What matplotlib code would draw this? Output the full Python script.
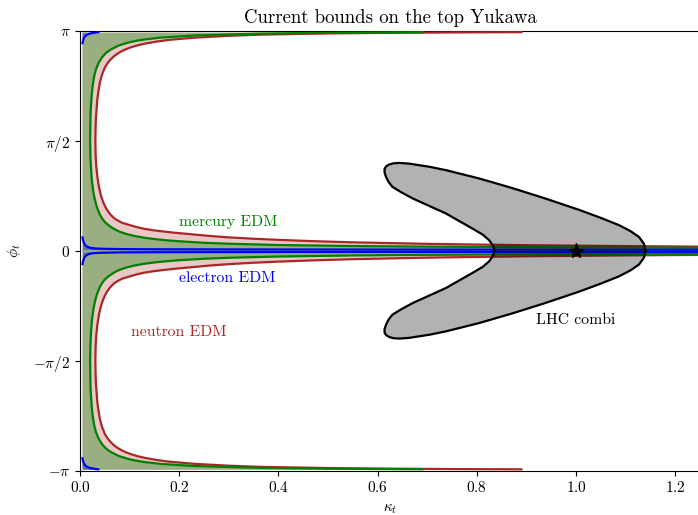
import numpy as np
import matplotlib
matplotlib.use("Agg")
import matplotlib.pyplot as plt

plt.rcParams['font.family'] = 'serif'
plt.rcParams['font.serif'] = ['cmr10']
plt.rcParams['mathtext.fontset'] = 'cm'
plt.rcParams['axes.unicode_minus'] = False
plt.rcParams['axes.formatter.use_mathtext'] = True

# ---------------- data ----------------
kappa_min = 0.004

# neutron EDM bound, upper half (phi > 0): branch towards phi=0, then branch towards phi=pi
n_zero_kappa = [1.25, 1.1, 0.9, 0.7, 0.55, 0.47, 0.4, 0.35, 0.3, 0.26, 0.22, 0.19, 0.17, 0.15, 0.13, 0.115,
                0.1, 0.092, 0.085, 0.077, 0.07, 0.064, 0.059, 0.054, 0.05, 0.046, 0.042, 0.038, 0.035,
                0.033, 0.032, 0.0315, 0.031]
n_zero_phi = [0.0592, 0.0664, 0.079, 0.0987, 0.1203, 0.137, 0.1556, 0.1714, 0.1912, 0.2124, 0.2387, 0.2581,
              0.274, 0.2908, 0.3128, 0.3367, 0.368, 0.3844, 0.399, 0.4286, 0.459, 0.4985, 0.539, 0.5909,
              0.6435, 0.7102, 0.796, 0.9193, 1.057, 1.196, 1.297, 1.375, 1.571]
n_pi_kappa = [0.0315, 0.032, 0.033, 0.035, 0.037, 0.04, 0.044, 0.05, 0.055, 0.06, 0.067, 0.076, 0.087, 0.1,
              0.115, 0.13, 0.155, 0.18, 0.23, 0.3, 0.365, 0.5, 0.6, 0.75, 0.89]
n_pi_phi = [1.781, 1.878, 1.986, 2.166, 2.276, 2.401, 2.510, 2.618, 2.676, 2.721, 2.772, 2.820, 2.8645, 2.902,
            2.9349, 2.960, 2.9913, 3.015, 3.046, 3.073, 3.0896, 3.1066, 3.1141, 3.1209, 3.1247]

# mercury EDM bound, upper half
hg_zero_kappa = [1.25, 1.1, 0.9, 0.7, 0.55, 0.4, 0.3, 0.25, 0.2, 0.175, 0.15, 0.13, 0.11, 0.093, 0.08, 0.072,
                 0.065, 0.057, 0.05, 0.045, 0.04, 0.034, 0.03, 0.027, 0.024, 0.0225, 0.0215, 0.021, 0.0205]
hg_zero_phi = [0.0432, 0.0464, 0.0511, 0.0586, 0.0673, 0.0826, 0.1002, 0.1142, 0.1354, 0.1491, 0.1674, 0.1857,
               0.2107, 0.241, 0.2721, 0.2988, 0.329, 0.3678, 0.4115, 0.4579, 0.518, 0.6248, 0.7297, 0.8391,
               1.0, 1.1369, 1.265, 1.352, 1.571]
hg_pi_kappa = [0.021, 0.0215, 0.0235, 0.0256, 0.0285, 0.032, 0.038, 0.045, 0.053, 0.0625, 0.078, 0.096, 0.112,
               0.13, 0.163, 0.23, 0.365, 0.5, 0.69]
hg_pi_phi = [1.883, 2.004, 2.2143, 2.361, 2.4894, 2.589, 2.6924, 2.771, 2.8309, 2.879, 2.9337, 2.974, 2.9999,
             3.0205, 3.047, 3.0773, 3.1046, 3.116, 3.1242]

# electron EDM bound, upper half (two separate pieces)
e_zero_kappa = [1.25, 0.6, 0.3, 0.15, 0.08, 0.045, 0.03, 0.022, 0.017, 0.013, 0.0115, 0.010, 0.009, 0.008,
                0.0072, 0.0065, 0.0057, 0.005]
e_zero_phi = [0.015, 0.017, 0.019, 0.021, 0.024, 0.028, 0.033, 0.04, 0.05, 0.064, 0.073, 0.085, 0.097, 0.11,
              0.127, 0.145, 0.167, 0.19]
e_pi_kappa = [0.005, 0.0057, 0.0065, 0.0072, 0.008, 0.009, 0.010, 0.011, 0.012, 0.014, 0.017, 0.022, 0.030,
              0.037]
e_pi_phi = [2.967, 2.99, 3.012, 3.028, 3.042, 3.054, 3.064, 3.071, 3.077, 3.087, 3.097, 3.108, 3.118, 3.125]

# LHC combination contour (upper half, from right tip to inner notch)
lhc_kappa = [1.140, 1.137, 1.127, 1.110, 1.087, 1.050, 1.006, 0.939, 0.872, 0.805, 0.738, 0.705, 0.684, 0.664,
             0.644, 0.632, 0.623, 0.617, 0.614, 0.614, 0.617, 0.622, 0.630, 0.648, 0.671, 0.738, 0.791, 0.812,
             0.825, 0.830, 0.834, 0.835]
lhc_phi = [0.0, 0.10, 0.197, 0.28, 0.365, 0.47, 0.585, 0.745, 0.895, 1.033, 1.152, 1.200, 1.223, 1.245, 1.256,
           1.250, 1.232, 1.205, 1.17, 1.12, 1.056, 0.985, 0.913, 0.835, 0.747, 0.532, 0.318, 0.23, 0.150, 0.10,
           0.05, 0.0]

sm_point = (1.0, 0.0)

# ---------------- figure ----------------
fig = plt.figure(figsize=(6.98, 5.15), dpi=100)
ax = fig.add_axes([80/698, 44.5/515, 620/698, 439.5/515])

red = '#a82828'
green = 'green'
blue = 'blue'


def halves(k0, p0, kp, pp):
    k_up = np.array(k0 + kp)
    p_up = np.array(p0 + pp)
    k_all = np.concatenate([k_up[::-1], k_up])
    p_all = np.concatenate([-p_up[::-1], p_up])
    return k_up, p_up, k_all, p_all


curves = [(n_zero_kappa, n_zero_phi, n_pi_kappa, n_pi_phi, 'firebrick', 0.25, red),
          (hg_zero_kappa, hg_zero_phi, hg_pi_kappa, hg_pi_phi, 'green', 0.35, green)]

for (k0, p0, kp, pp, fc, fa, lc) in curves:
    k_up, p_up, k_all, p_all = halves(k0, p0, kp, pp)
    ax.fill_betweenx(p_all, kappa_min, k_all, color=fc, alpha=fa, lw=0, zorder=1)

# electron fills
ek = np.array(e_zero_kappa)
ep = np.array(e_zero_phi)
ax.fill_betweenx(np.concatenate([-ep, ep[::-1]]), kappa_min,
                 np.concatenate([ek, ek[::-1]]), color=blue, alpha=0.35, lw=0, zorder=1)
epk = np.array(e_pi_kappa)
epp = np.array(e_pi_phi)
for s in (1, -1):
    ax.fill_betweenx(s * epp, kappa_min, epk, color=blue, alpha=0.35, lw=0, zorder=1)

# lines
for (k0, p0, kp, pp, fc, fa, lc) in curves:
    k_up, p_up, _, _ = halves(k0, p0, kp, pp)
    for s in (1, -1):
        ax.plot(k_up, s * p_up, color=lc, lw=1.6, zorder=3, solid_joinstyle='round')

for s in (1, -1):
    ax.plot(ek, s * ep, color=blue, lw=1.6, zorder=3)
    ax.plot(epk, s * epp, color=blue, lw=1.6, zorder=3)

# LHC contour
lk = np.array(lhc_kappa)
lp = np.array(lhc_phi)
lk_all = np.concatenate([lk, lk[::-1][1:]])
lp_all = np.concatenate([lp, -lp[::-1][1:]])
ax.fill(lk_all, lp_all, facecolor='k', alpha=0.3, lw=0, zorder=4)
ax.plot(lk_all, lp_all, color='k', lw=1.6, zorder=5, solid_joinstyle='round')
ax.plot([sm_point[0]], [sm_point[1]], marker='*', color='k', ms=11, zorder=6, ls='none')

# labels
ax.text(0.2, 0.41, 'mercury EDM', color=green, fontsize=11.3, va='center', ha='left')
ax.text(0.2, -0.39, 'electron EDM', color=blue, fontsize=11.3, va='center', ha='left')
ax.text(0.102, -1.17, 'neutron EDM', color=red, fontsize=11.3, va='center', ha='left')
ax.text(0.92, -0.99, 'LHC combi', color='k', fontsize=11.3, va='center', ha='left')

ax.set_xlim(0, 1.25)
ax.set_ylim(-np.pi, np.pi)
ax.set_yticks([-np.pi, -np.pi/2, 0, np.pi/2, np.pi])
ax.set_yticklabels([r'$-\pi$', r'$-\pi/2$', r'$0$', r'$\pi/2$', r'$\pi$'])
ax.tick_params(labelsize=11)
ax.set_xlabel(r'$\kappa_t$', fontsize=11, labelpad=5)
ax.set_ylabel(r'$\phi_t$', fontsize=11, labelpad=7)
ax.set_title('Current bounds on the top Yukawa', fontsize=13.5)

fig.savefig('out.png', dpi=100)
